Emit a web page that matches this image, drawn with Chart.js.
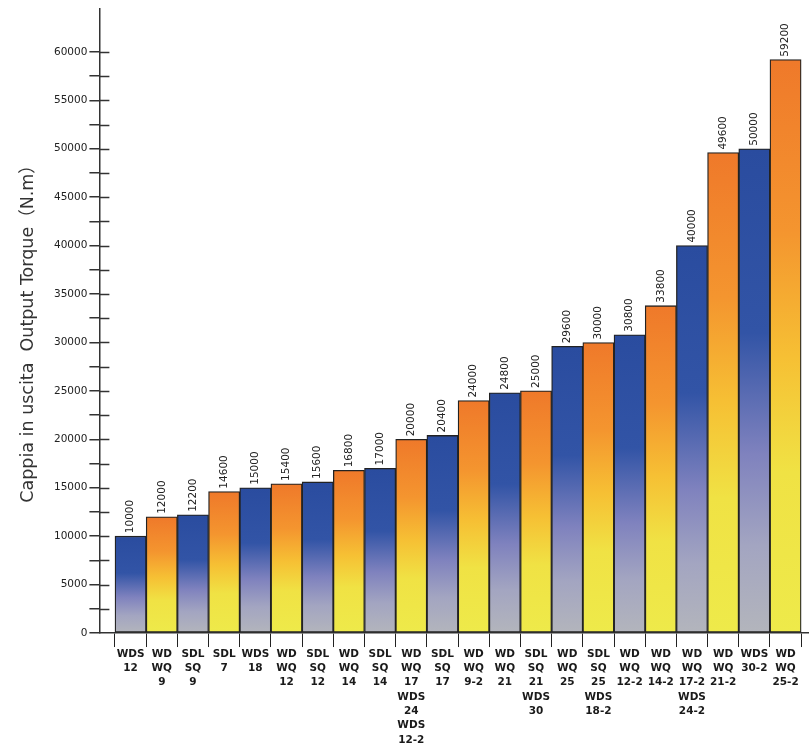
<!DOCTYPE html>
<html lang="it">
<head>
    <meta charset="UTF-8">
    <title>Cappia in uscita - Output Torque</title>
    <script src="https://cdn.jsdelivr.net/npm/chart.js"></script>
    <style>
        html, body { margin: 0; padding: 0; background: #fff; }
        #wrap { width: 809px; height: 748px; position: relative; }
    </style>
</head>
<body>
    <div id="wrap"><canvas id="myChart"></canvas></div>
    <script>
        // modelli (categorie asse X), una riga per ogni nome
        const models = [
            ['WDS', '12'], ['WD', 'WQ', '9'], ['SDL', 'SQ', '9'], ['SDL', '7'], ['WDS', '18'],
            ['WD', 'WQ', '12'], ['SDL', 'SQ', '12'], ['WD', 'WQ', '14'], ['SDL', 'SQ', '14'],
            ['WD', 'WQ', '17', 'WDS', '24', 'WDS', '12-2'], ['SDL', 'SQ', '17'], ['WD', 'WQ', '9-2'],
            ['WD', 'WQ', '21'], ['SDL', 'SQ', '21', 'WDS', '30'], ['WD', 'WQ', '25'],
            ['SDL', 'SQ', '25', 'WDS', '18-2'], ['WD', 'WQ', '12-2'], ['WD', 'WQ', '14-2'],
            ['WD', 'WQ', '17-2', 'WDS', '24-2'], ['WD', 'WQ', '21-2'], ['WDS', '30-2'], ['WD', 'WQ', '25-2']
        ];
        // coppia in uscita (N.m)
        const torque = [10000, 12000, 12200, 14600, 15000, 15400, 15600, 16800, 17000, 20000, 20400,
                        24000, 24800, 25000, 29600, 30000, 30800, 33800, 40000, 49600, 50000, 59200];
        const yMax = 64500;
        const yTickTop = 60000;
        const yStep = 2500;
        const yLabelStep = 5000;
        const axisTitle = 'Cappia in uscita  Output Torque\uFF08N.m\uFF09\u2003';

        const blueStops = [[0, '#2a4c9f'], [0.38, '#3254a6'], [0.63, '#7f82be'], [0.82, '#a3a5c1'], [1, '#b3b5bc']];
        const orangeStops = [[0, '#ef792a'], [0.3, '#f4952f'], [0.52, '#f6c034'], [0.72, '#f0e244'], [1, '#eeea4a']];

        function barGradient(ctx) {
            const chart = ctx.chart;
            const y = chart.scales.y;
            const stops = ctx.dataIndex % 2 === 0 ? blueStops : orangeStops;
            if (!y || !ctx.parsed) return stops[2][1];
            const top = y.getPixelForValue(ctx.parsed.y);
            const bottom = y.getPixelForValue(0);
            // prima del layout le scale non hanno ancora pixel validi
            if (!isFinite(top) || !isFinite(bottom) || top === bottom) return stops[2][1];
            const g = chart.ctx.createLinearGradient(0, top, 0, bottom);
            stops.forEach(s => g.addColorStop(s[0], s[1]));
            return g;
        }

        // etichette verticali sopra ogni barra
        const valueLabels = {
            id: 'valueLabels',
            afterDatasetsDraw(chart) {
                const ctx = chart.ctx;
                const meta = chart.getDatasetMeta(0);
                ctx.save();
                ctx.fillStyle = '#222';
                ctx.font = '10.5px "DejaVu Sans"';
                ctx.textAlign = 'left';
                ctx.textBaseline = 'middle';
                meta.data.forEach((bar, i) => {
                    ctx.save();
                    ctx.translate(bar.x, bar.y - 3);
                    ctx.rotate(-Math.PI / 2);
                    ctx.fillText(String(torque[i]), 0, 0);
                    ctx.restore();
                });
                ctx.restore();
            }
        };

        // le tacche dell'asse Y attraversano la linea
        const tickCross = {
            id: 'tickCross',
            afterDraw(chart) {
                const y = chart.scales.y;
                const ctx = chart.ctx;
                const x0 = chart.chartArea.left;
                ctx.save();
                ctx.strokeStyle = '#333';
                ctx.lineWidth = 1.5;
                y.ticks.forEach(t => {
                    if (t.value === 0) return;
                    const py = Math.round(y.getPixelForValue(t.value)) + 0.5;
                    ctx.beginPath();
                    ctx.moveTo(x0, py);
                    ctx.lineTo(x0 + 10, py);
                    ctx.stroke();
                });
                ctx.restore();
            }
        };

        const ctx = document.getElementById('myChart').getContext('2d');
        const myChart = new Chart(ctx, {
            type: 'bar',
            data: {
                labels: models,
                datasets: [{
                    data: torque,
                    backgroundColor: barGradient,
                    borderColor: '#222',
                    borderWidth: 1.3,
                    borderSkipped: false,
                    categoryPercentage: 1,
                    barPercentage: 1
                }]
            },
            options: {
                responsive: true,
                maintainAspectRatio: false,
                animation: false,
                layout: { padding: { left: 18, top: 6, right: 1, bottom: 1 } },
                plugins: {
                    legend: { display: false },
                    tooltip: { enabled: false }
                },
                scales: {
                    x: {
                        offset: true,
                        // spazio libero prima della prima barra
                        afterBuildTicks: s => {
                            s._startValue -= 0.5;
                            s._valueRange += 0.72;
                        },
                        grid: {
                            offset: true,
                            drawOnChartArea: false,
                            color: '#222',
                            lineWidth: 1,
                            tickLength: 14
                        },
                        border: { color: '#333', width: 1.5 },
                        ticks: {
                            autoSkip: false,
                            maxRotation: 0,
                            padding: 0,
                            color: '#1a1a1a',
                            font: { family: 'DejaVu Sans', size: 10.5, weight: 'bold', lineHeight: 1.36 }
                        }
                    },
                    y: {
                        min: 0,
                        max: yMax,
                        // tacche ogni 2500 fino a 60000, la linea dell'asse prosegue oltre
                        afterBuildTicks: s => {
                            const list = [];
                            for (let v = 0; v <= yTickTop; v += yStep) list.push({ value: v });
                            s.ticks = list;
                        },
                        grid: {
                            drawOnChartArea: false,
                            color: '#333',
                            lineWidth: 1.5,
                            tickLength: 10
                        },
                        border: { color: '#333', width: 1.5 },
                        ticks: {
                            autoSkip: false,
                            padding: 2,
                            color: '#222',
                            font: { family: 'DejaVu Sans', size: 10.5 },
                            callback: v => (v % yLabelStep === 0 ? String(v) : '')
                        },
                        title: {
                            display: true,
                            text: axisTitle,
                            color: '#333',
                            font: { family: '"DejaVu Sans", "Noto Sans CJK SC"', size: 17.5 },
                            padding: { top: 0, bottom: 13 }
                        }
                    }
                }
            },
            plugins: [valueLabels, tickCross]
        });
    </script>
</body>
</html>
